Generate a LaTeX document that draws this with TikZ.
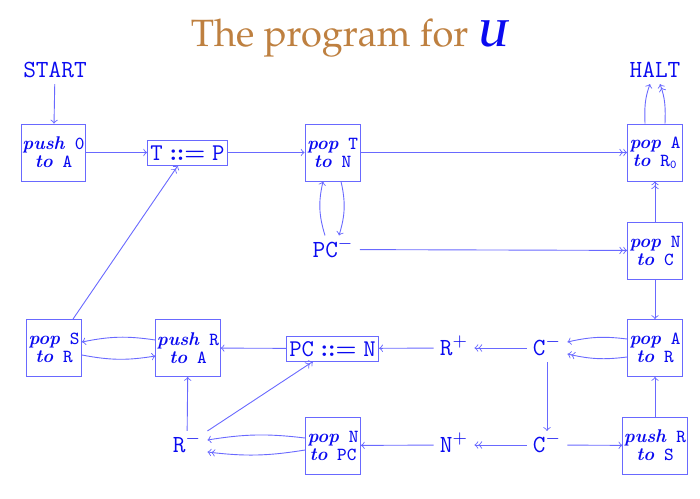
\documentclass[tikz,border=0pt]{standalone}
\usepackage{amssymb}
\usepackage{amsmath}
\usepackage{tikz}

\definecolor{titlebrown}{RGB}{190,128,64}
\definecolor{txtblue}{RGB}{10,10,240}
\definecolor{lineblue}{RGB}{105,105,255}

% one instruction box: <op> <reg> / to <reg>
\newcommand{\instrtext}[3]{\textbf{\textit{#1}}\texttt{\ #2}\\\textbf{\textit{to}}\texttt{\ #3}}
\newcommand{\assigntext}[2]{$\mathtt{#1}\mathrel{\boldsymbol{::=}}\mathtt{#2}$}

\begin{document}
\begin{tikzpicture}[x=0.5pt,y=-0.5pt]
        \useasboundingbox (0,0) rectangle (700,498);
        \tikzstyle{every node} = [text=txtblue, inner sep=3pt, text height=7.6pt, text depth=0pt,
                                  font=\ttfamily\fontsize{12.3}{14}\selectfont]
        \tikzstyle{instr} = [draw=lineblue, align=center, inner xsep=0.6pt, text height=, text depth=,
                             minimum width=27.5pt, minimum height=28.5pt,
                             font=\fontsize{9.2}{9}\selectfont]
        \tikzstyle{assign} = [draw=lineblue, inner sep=1.5pt, minimum height=12.5pt]
        \tikzstyle{every path} = [draw=lineblue, line width=0.45pt]

        \node[text=titlebrown, text height=, text depth=, anchor=base,
              font=\fontencoding{OT1}\fontfamily{ppl}\fontsize{19}{22}\selectfont]
              (title) at (350,46) {The program for \textcolor{txtblue}{\textbf{\textit{U}}}};

        \node (start) at (55,70) {START};
        \node (halt) at (655,70) {HALT};

        \node[instr] (pushOA) at (53.5,152.5) {\instrtext{push}{0}{A}};
        \node[assign] (TP) at (187.5,152.5) {\assigntext{T}{P}};
        \node[instr] (popTN) at (332.5,152.5) {\instrtext{pop}{T}{N}};
        \node[instr] (popAR0) at (655,152.5) {\instrtext{pop}{A}{R$_{\mathtt{0}}$}};

        \node (PCm) at (333,249.5) {PC$^-$};
        \node[instr] (popNC) at (655,250.5) {\instrtext{pop}{N}{C}};

        \node[instr] (popSR) at (54,348) {\instrtext{pop}{S}{R}};
        \node[instr] (pushRA) at (188,348) {\instrtext{push}{R}{A}};
        \node[assign] (PCN) at (332.5,348.5) {\assigntext{PC}{N}};
        \node (Rp) at (454,348) {R$^+$};
        \node (Cm1) at (547,348) {C$^-$};
        \node[instr] (popAR) at (655,348) {\instrtext{pop}{A}{R}};

        \node (Rm) at (187,445) {R$^-$};
        \node[instr] (popNPC) at (333,445.5) {\instrtext{pop}{N}{PC}};
        \node (Np) at (454,445) {N$^+$};
        \node (Cm2) at (547,445) {C$^-$};
        \node[instr] (pushRS) at (655,445.5) {\instrtext{push}{R}{S}};

        % top row
        \draw[->] (start) -- (pushOA);
        \draw[->] (pushOA) -- (TP);
        \draw[->] (TP) -- (popTN);
        \draw[->>] (popTN) -- (popAR0);
        \draw[->] ([xshift=4.25pt]popTN.south) to[bend left=15] ([xshift=3pt]PCm.north);
        \draw[->] ([xshift=-4pt]PCm.north) to[bend left=15] ([xshift=-4.75pt]popTN.south);
        \draw[->>] (PCm) -- (popNC);
        \draw[->>] (popNC) -- (popAR0);
        \draw[->] ([xshift=-5pt]popAR0.north) to[out=92,in=-110] ([xshift=-2.5pt]halt.south);
        \draw[->>] ([xshift=5pt]popAR0.north) to[out=88,in=-70] ([xshift=2.5pt]halt.south);

        % middle row
        \draw[->] (popNC) -- (popAR);
        \draw[->] ([yshift=4.5pt]popAR.west) to[bend right=10] ([yshift=3pt]Cm1.east);
        \draw[->>] ([yshift=-4.5pt]popAR.west) to[bend left=10] ([yshift=-3pt]Cm1.east);
        \draw[->>] (Cm1) -- (Rp);
        \draw[->] (Rp) -- (PCN);
        \draw[->] (PCN) -- (pushRA);
        \draw[->] ([yshift=4pt]pushRA.west) to[bend right=10] ([yshift=3pt]popSR.east);
        \draw[->] ([yshift=-3.5pt]popSR.east) to[bend right=10] ([yshift=-4pt]pushRA.west);
        \draw[->>] ([xshift=9.5pt]popSR.north) -- ([xshift=-4.75pt]TP.south);
        \draw[->] (Cm1) -- (Cm2);

        % bottom row
        \draw[->] (Rm) -- (pushRA);
        \draw[->>] (Rm.north east) -- ([xshift=-9.75pt]PCN.south);
        \draw[->] ([yshift=3.75pt]popNPC.west) to[bend right=8] ([yshift=2.5pt]Rm.east);
        \draw[->>] ([yshift=-2.25pt]popNPC.west) to[bend left=8] ([yshift=-3.5pt]Rm.east);
        \draw[->>] (Cm2) -- (Np);
        \draw[->] (Np) -- (popNPC);
        \draw[->] (Cm2) -- (pushRS);
        \draw[->] (pushRS) -- (popAR);
\end{tikzpicture}
\end{document}
